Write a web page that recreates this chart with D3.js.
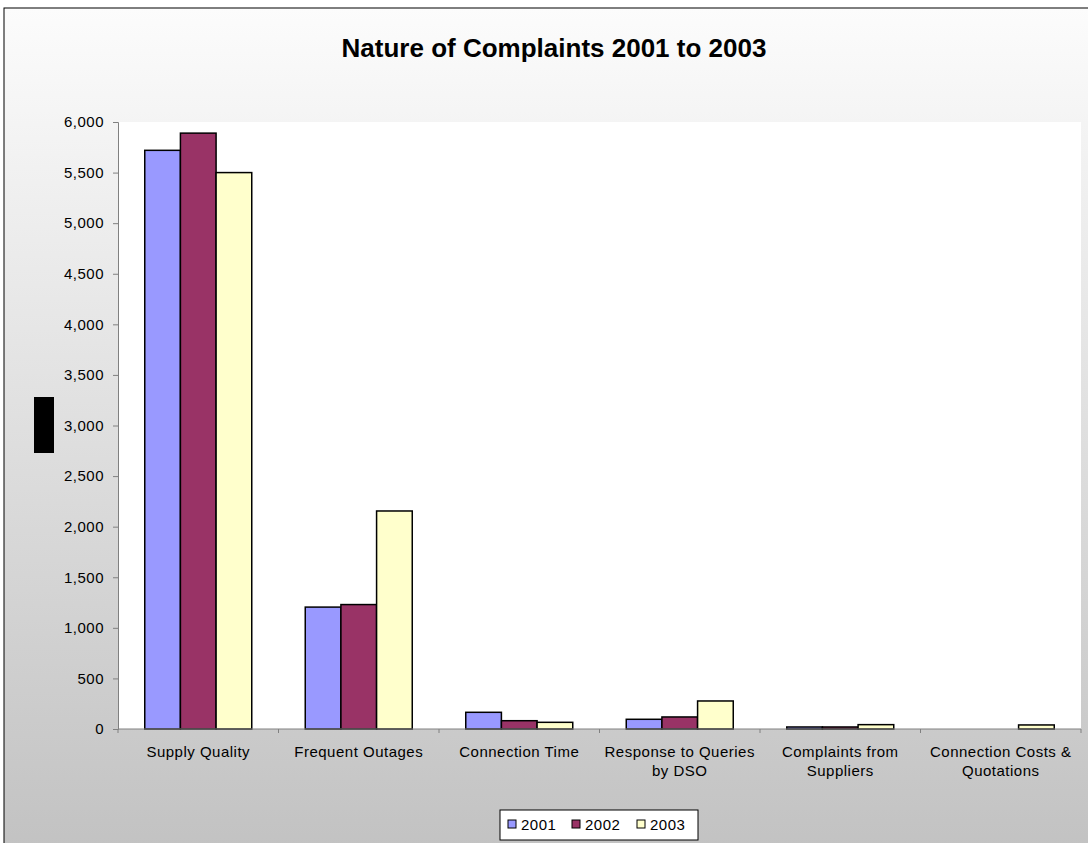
<!DOCTYPE html>
<html>
<head>
<meta charset="utf-8">
<script src="https://cdn.jsdelivr.net/npm/d3@7"></script>
<style>
  body { margin: 0; background: #fff; }
  svg { display: block; font-family: Arial, "Liberation Sans", sans-serif; }
</style>
</head>
<body>
<svg id="chart"></svg>
<script>
const categories = [
    ['Supply Quality'],
    ['Frequent Outages'],
    ['Connection Time'],
    ['Response to Queries', 'by DSO'],
    ['Complaints from', 'Suppliers'],
    ['Connection Costs &', 'Quotations']
];
const years = ['2001', '2002', '2003'];
const values2001 = [5720, 1205, 165, 96, 20, 0];
const values2002 = [5890, 1230, 82, 119, 20, 0];
const values2003 = [5500, 2155, 66, 277, 43, 40];
const yTicks = [0, 500, 1000, 1500, 2000, 2500, 3000, 3500, 4000, 4500, 5000, 5500, 6000];

const colors = ['#9999ff', '#993366', '#ffffcc'];
const series = [values2001, values2002, values2003];

let width = 1088;
let height = 843;
let plot = { left: 118, right: 1081, top: 122, bottom: 729 };

let svg = d3.select('#chart').attr('width', width).attr('height', height);

// background gradient of the chart area
let defs = svg.append('defs');
let grad = defs.append('linearGradient')
    .attr('id', 'bg')
    .attr('x1', 0).attr('y1', 0).attr('x2', 0).attr('y2', 1);
grad.append('stop').attr('offset', '0%').attr('stop-color', '#fcfcfc');
grad.append('stop').attr('offset', '100%').attr('stop-color', '#c2c2c2');

svg.append('rect')
    .attr('x', 4).attr('y', 8)
    .attr('width', width).attr('height', height)
    .attr('fill', 'url(#bg)')
    .attr('stroke', '#000')
    .attr('stroke-width', 1);

// plot area
svg.append('rect')
    .attr('x', plot.left).attr('y', plot.top)
    .attr('width', plot.right - plot.left).attr('height', plot.bottom - plot.top)
    .attr('fill', '#fff');

svg.append('text')
    .attr('x', 554).attr('y', 57)
    .attr('text-anchor', 'middle')
    .attr('font-size', 26)
    .attr('font-weight', 'bold')
    .text('Nature of Complaints 2001 to 2003');

// scales
let xScale = d3.scaleBand()
    .domain(d3.range(categories.length))
    .range([plot.left, plot.right]);

let barW = xScale.bandwidth() / 4.5;

let yScale = d3.scaleLinear()
    .domain([0, 6000])
    .range([plot.bottom, plot.top]);

// bars
series.forEach((vals, s) => {
    svg.append('g')
        .selectAll('rect')
        .data(vals)
        .enter()
        .append('rect')
        .attr('x', (d, i) => xScale(i) + barW * 0.75 + s * barW)
        .attr('y', d => yScale(d))
        .attr('width', barW)
        .attr('height', d => plot.bottom - yScale(d))
        .attr('fill', colors[s])
        .attr('stroke', '#000')
        .attr('stroke-width', 1.5);
});

// y axis
let yAxis = d3.axisLeft(yScale)
    .tickValues(yTicks)
    .tickSize(5)
    .tickPadding(9)
    .tickFormat(d3.format(','));

let gy = svg.append('g')
    .attr('transform', `translate(${plot.left}, 0)`)
    .call(yAxis);
gy.select('.domain').attr('stroke', '#808080');
gy.selectAll('.tick line').attr('stroke', '#808080');
gy.selectAll('.tick text')
    .attr('font-size', 15)
    .attr('letter-spacing', 0.5)
    .attr('fill', '#000')
    .attr('font-family', 'Arial, "Liberation Sans", sans-serif');

// x axis line and boundary ticks
let gx = svg.append('g');
gx.append('line')
    .attr('x1', plot.left).attr('x2', plot.right)
    .attr('y1', plot.bottom).attr('y2', plot.bottom)
    .attr('stroke', '#808080');
gx.selectAll('line.xt')
    .data(d3.range(categories.length + 1))
    .enter()
    .append('line')
    .attr('class', 'xt')
    .attr('x1', i => plot.left + i * xScale.step())
    .attr('x2', i => plot.left + i * xScale.step())
    .attr('y1', plot.bottom).attr('y2', plot.bottom + 4)
    .attr('stroke', '#808080');

gx.selectAll('text.cat')
    .data(categories)
    .enter()
    .append('text')
    .attr('class', 'cat')
    .attr('text-anchor', 'middle')
    .attr('font-size', 15)
    .attr('letter-spacing', 0.5)
    .attr('x', (d, i) => xScale(i) + xScale.bandwidth() / 2)
    .attr('y', 757)
    .each(function(d) {
        let t = d3.select(this);
        d.forEach((line, k) => {
            t.append('tspan')
                .attr('x', t.attr('x'))
                .attr('dy', k === 0 ? 0 : 19)
                .text(line);
        });
    });

// y axis title placeholder (rendered as a black block)
svg.append('rect')
    .attr('x', 34).attr('y', 397)
    .attr('width', 20).attr('height', 56)
    .attr('fill', '#000');

// legend
let legend = svg.append('g');
legend.append('rect')
    .attr('x', 500).attr('y', 810)
    .attr('width', 198).attr('height', 30)
    .attr('fill', '#fff')
    .attr('stroke', '#000');

let legendX = [508, 572, 637];
years.forEach((y, i) => {
    legend.append('rect')
        .attr('x', legendX[i]).attr('y', 820)
        .attr('width', 8).attr('height', 8)
        .attr('fill', colors[i])
        .attr('stroke', '#000')
        .attr('stroke-width', 1);
    legend.append('text')
        .attr('x', legendX[i] + 13).attr('y', 830)
        .attr('font-size', 15)
        .attr('letter-spacing', 0.5)
        .text(y);
});
</script>
</body>
</html>
